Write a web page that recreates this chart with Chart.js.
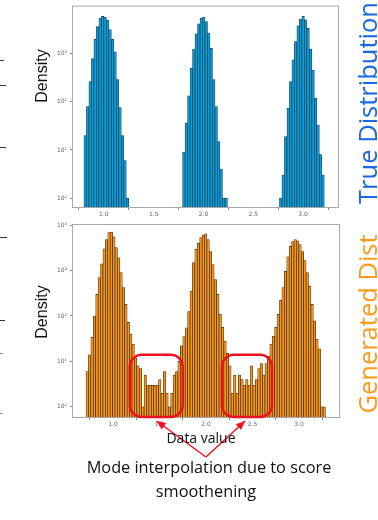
<!DOCTYPE html>
<html>
<head>
<title>True vs generated distribution</title>
<script src="https://cdn.jsdelivr.net/npm/chart.js@4.4.0/dist/chart.umd.min.js"></script>
<style>
body { margin:0; background:#fff; width:378px; height:520px; overflow:hidden; position:relative; font-family:'Liberation Sans', Arial, sans-serif; }
#top_box { position:absolute; left:0; top:0; width:378px; height:218px; }
#bot_box { position:absolute; left:0; top:218px; width:378px; height:250px; }
.txt { position:absolute; white-space:nowrap; transform:translate(-50%,-50%); }
.rot { transform:translate(-50%,-50%) rotate(-90deg); }
.dens { font-size:16px; color:#111; }
.note { font-family:'Open Sans', sans-serif; color:#111; }
.side { font-family:'Open Sans', sans-serif; font-size:25.5px; }
.mark { position:absolute; left:0; height:1px; background:#333; }
</style>
</head>
<body>
<div id="top_box"><canvas id="topChart"></canvas></div>
<div id="bot_box"><canvas id="botChart"></canvas></div>

<div class="txt rot dens" style="left:42px; top:76px;">Density</div>
<div class="txt rot dens" style="left:42px; top:312px;">Density</div>
<div class="txt note" style="left:201px; top:437px; font-size:14px;">Data value</div>
<div class="txt note" style="left:209px; top:467px; font-size:16.3px;">Mode interpolation due to score</div>
<div class="txt note" style="left:206px; top:491px; font-size:16.3px;">smoothening</div>
<div class="txt rot side" style="left:367px; top:103px; color:#1868e4;">True Distribution</div>
<div class="txt rot side" style="left:367px; top:324px; color:#ff9a18;">Generated Dist</div>

<div class="mark" style="top:60px; width:4px;"></div>
<div class="mark" style="top:85px; width:6px;"></div>
<div class="mark" style="top:147px; width:6px;"></div>
<div class="mark" style="top:237px; width:7px;"></div>
<div class="mark" style="top:320px; width:5px;"></div>
<div class="mark" style="top:353px; width:3px; background:#999;"></div>
<div class="mark" style="top:413px; width:3px; background:#999;"></div>

<script>
// true distribution histogram (bin centres, density)
var trueX = [0.8125, 0.8375, 0.8625, 0.8875, 0.9125, 0.9375, 0.9625, 0.9875, 1.0125, 1.0375, 1.0625, 1.0875, 1.1125, 1.1375, 1.1625, 1.1875, 1.2125, 1.2375,
             1.8025, 1.8275, 1.8525, 1.8775, 1.9025, 1.9275, 1.9525, 1.9775, 2.0025, 2.0275, 2.0525, 2.0775, 2.1025, 2.1275, 2.1525, 2.1775, 2.2025, 2.2275,
             2.775, 2.8, 2.825, 2.85, 2.875, 2.9, 2.925, 2.95, 2.975, 3.0, 3.025, 3.05, 3.075, 3.1, 3.125, 3.15, 3.175, 3.2];
var trueDensity = [20, 80, 265, 800, 2000, 3700, 5500, 6000, 5800, 5000, 3200, 2000, 1100, 290, 76, 20, 6, 1,
                   9, 36, 133, 500, 1260, 2600, 4200, 5500, 5800, 4700, 2700, 1300, 290, 80, 15, 4, 1, 1,
                   1, 3, 19, 74, 265, 750, 1800, 3800, 5300, 6000, 5100, 3400, 1250, 460, 120, 33, 8, 3];

// generated distribution histogram
var genX = [0.723, 0.749, 0.775, 0.801, 0.827, 0.853, 0.879, 0.905, 0.931, 0.957,
            0.983, 1.009, 1.035, 1.061, 1.087, 1.113, 1.139, 1.165, 1.191, 1.217,
            1.243, 1.269, 1.295, 1.321, 1.347, 1.373, 1.399, 1.425, 1.451, 1.477,
            1.503, 1.529, 1.555, 1.581, 1.607, 1.633, 1.659, 1.685, 1.711, 1.737,
            1.763, 1.789, 1.815, 1.841, 1.867, 1.893, 1.919, 1.945, 1.971, 1.997,
            2.023, 2.049, 2.075, 2.101, 2.127, 2.153, 2.179, 2.205, 2.231, 2.257,
            2.283, 2.309, 2.335, 2.361, 2.387, 2.413, 2.439, 2.465, 2.491, 2.517,
            2.543, 2.569, 2.595, 2.621, 2.647, 2.673, 2.699, 2.725, 2.751, 2.777,
            2.803, 2.829, 2.855, 2.881, 2.907, 2.933, 2.959, 2.985, 3.011, 3.037,
            3.063, 3.089, 3.115, 3.141, 3.167, 3.193, 3.219, 3.245, 3.271];
var genDensity = [6, 14, 34, 100, 300, 700, 1400, 3000, 4800, 6800,
                  7000, 5500, 3200, 1900, 900, 420, 180, 72, 40, 24,
                  12, 8, 7, 1, 5, 3, 3, 3, 3, 3,
                  4, 2, 6, 2, 1, 2, 5, 6, 10, 22,
                  35, 55, 125, 350, 1500, 2900, 4000, 5300, 6000, 6400,
                  4800, 2600, 1350, 630, 300, 110, 56, 28, 15, 8,
                  2, 5, 2, 5, 4, 3, 4, 3, 8, 3,
                  4, 7, 9, 5, 9, 13, 24, 36, 56, 108,
                  220, 420, 960, 2000, 3400, 4300, 4800, 4500, 3700, 2600,
                  1650, 900, 450, 180, 78, 31, 19, 1, 1];

var xTicks = [1.0, 1.5, 2.0, 2.5, 3.0];
var xTickLabels = ['1.0', '1.5', '2.0', '2.5', '3.0'];
var yTicks = [1, 10, 100, 1000, 10000];
var yTickLabels = ['10⁰', '10¹', '10²', '10³', '10⁴'];

// red call-outs on the generated panel
var circledX = [[1.18, 1.75], [2.17, 2.71]];
var circledTop = 14;
var arrowTips = [1.47, 2.42];
var arrowJoin = 2.0;

var boxPlugin = {
  id: 'box',
  afterDraw: function (chart) {
    var ctx = chart.ctx, a = chart.chartArea;
    ctx.save();
    ctx.strokeStyle = '#a8a8a8';
    ctx.lineWidth = 1;
    ctx.strokeRect(a.left - 0.5, a.top - 0.5, a.width + 1, a.height + 1);
    ctx.restore();
  }
};

var notesPlugin = {
  id: 'notes',
  afterDraw: function (chart) {
    var ctx = chart.ctx, a = chart.chartArea, x = chart.scales.x, y = chart.scales.y;
    ctx.save();
    ctx.strokeStyle = '#ee1122';
    ctx.fillStyle = '#ee1122';
    ctx.lineWidth = 2.5;
    circledX.forEach(function (r) {
      var l = x.getPixelForValue(r[0]), rr = x.getPixelForValue(r[1]), t = y.getPixelForValue(circledTop);
      ctx.beginPath();
      ctx.roundRect(l, t, rr - l, a.bottom - t, 12);
      ctx.stroke();
    });
    var jx = x.getPixelForValue(arrowJoin), jy = a.bottom + 40;
    ctx.lineWidth = 1.5;
    arrowTips.forEach(function (v) {
      var tx = x.getPixelForValue(v), ty = a.bottom + 4;
      ctx.beginPath(); ctx.moveTo(jx, jy); ctx.lineTo(tx, ty); ctx.stroke();
      var ang = Math.atan2(ty - jy, tx - jx), c = Math.cos(ang), s = Math.sin(ang);
      ctx.beginPath();
      ctx.moveTo(tx, ty);
      ctx.lineTo(tx - 9 * c + 4 * s, ty - 9 * s - 4 * c);
      ctx.lineTo(tx - 9 * c - 4 * s, ty - 9 * s + 4 * c);
      ctx.closePath();
      ctx.fill();
    });
    ctx.restore();
  }
};

function makeChart(id, xs, ys, fill, edge, xMin, xMax, yMin, yMax, padTop, padRight, axisH, plugins) {
  return new Chart(document.getElementById(id), {
    type: 'bar',
    data: {
      datasets: [{
        data: xs.map(function (v, i) { return { x: v, y: ys[i] }; }),
        backgroundColor: fill,
        borderColor: edge,
        borderWidth: 0.7,
        barPercentage: 1,
        categoryPercentage: 1
      }]
    },
    options: {
      responsive: true,
      maintainAspectRatio: false,
      animation: false,
      layout: { padding: { top: padTop, right: padRight, left: 0, bottom: 0 } },
      plugins: { legend: { display: false }, tooltip: { enabled: false } },
      scales: {
        x: {
          type: 'linear', offset: false, min: xMin, max: xMax,
          border: { display: false },
          grid: { drawOnChartArea: false, tickLength: 3, color: '#888' },
          afterBuildTicks: function (s) { s.ticks = xTicks.map(function (v) { return { value: v }; }); },
          afterFit: function (s) { s.height = axisH; },
          ticks: {
            callback: function (v, i) { return xTickLabels[i]; },
            font: { size: 6, family: 'DejaVu Sans' }, color: '#666', padding: 1,
            maxRotation: 0, autoSkip: false
          }
        },
        y: {
          type: 'logarithmic', min: yMin, max: yMax,
          border: { display: false },
          grid: { drawOnChartArea: false, tickLength: 3, color: '#888' },
          afterBuildTicks: function (s) {
            s.ticks = yTicks.filter(function (v) { return v >= s.min && v <= s.max; })
                            .map(function (v) { return { value: v }; });
          },
          afterFit: function (s) { s.width = 73; },
          ticks: {
            callback: function (v) { return yTickLabels[yTicks.indexOf(v)]; },
            font: { size: 6, family: 'DejaVu Sans' }, color: '#666', padding: 3, autoSkip: false
          }
        }
      }
    },
    plugins: plugins
  });
}

makeChart('topChart', trueX, trueDensity, '#0b9fd8', '#123a55', 0.69, 3.35, 0.65, 9600, 6, 40, 11, [boxPlugin]);
makeChart('botChart', genX, genDensity, '#f5981f', '#4a2a0a', 0.57, 3.43, 0.63, 10000, 7, 39, 51, [boxPlugin, notesPlugin]);
</script>
</body>
</html>
